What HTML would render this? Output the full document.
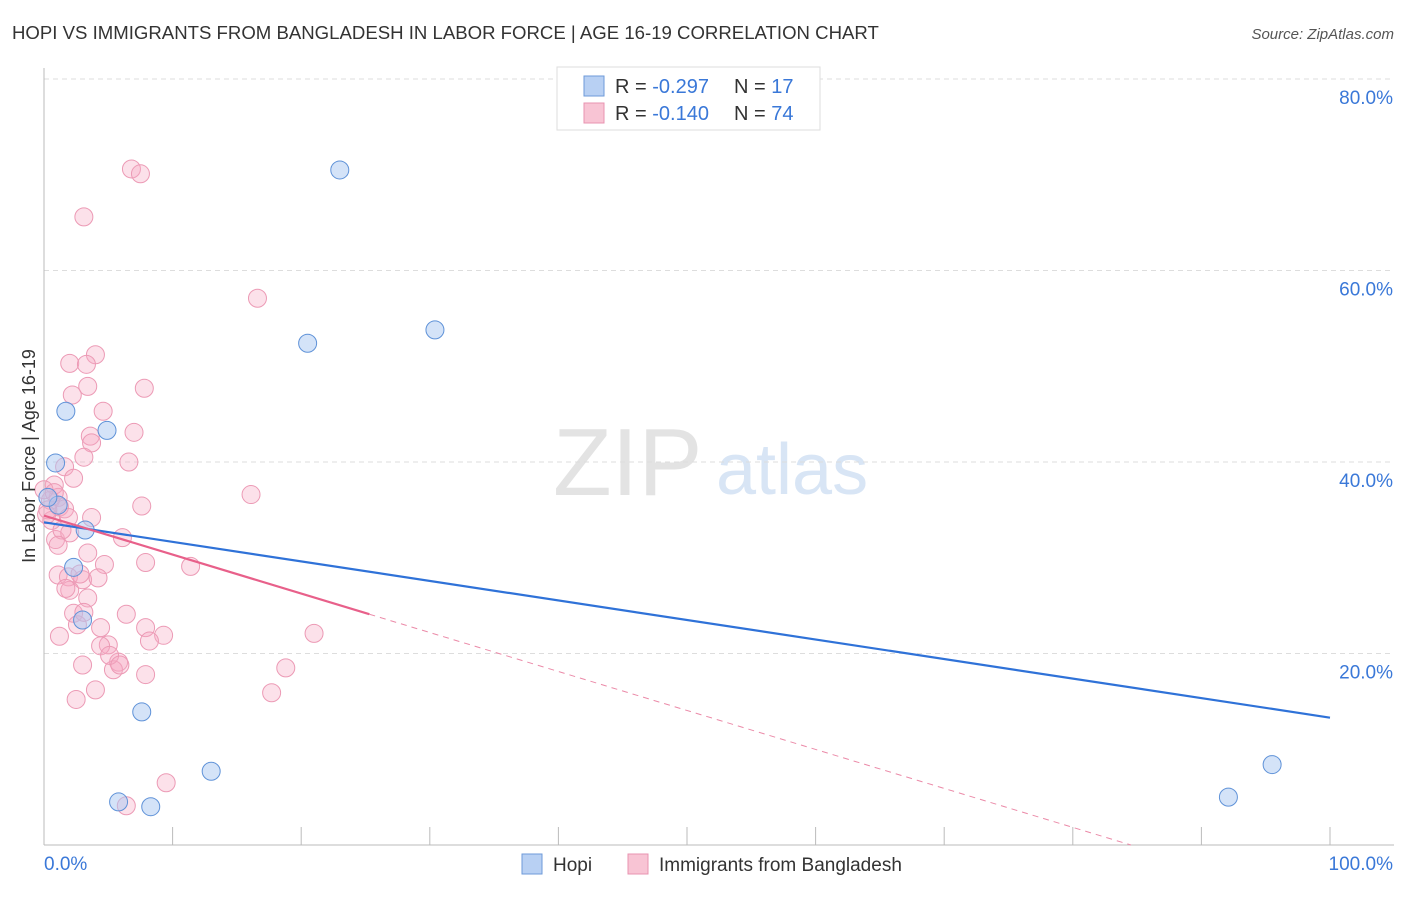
<!DOCTYPE html>
<html><head><meta charset="utf-8"><style>
body{margin:0;background:#fff;font-family:"Liberation Sans",sans-serif}
svg text{font-family:"Liberation Sans",sans-serif}
</style></head><body>
<svg width="1406" height="892" xmlns="http://www.w3.org/2000/svg">
<text x="12" y="39" font-size="18.6" fill="#333">HOPI VS IMMIGRANTS FROM BANGLADESH IN LABOR FORCE | AGE 16-19 CORRELATION CHART</text>
<text x="1394" y="39" font-size="15" fill="#555" font-style="italic" text-anchor="end">Source: ZipAtlas.com</text>
<g>
<text x="553" y="495" font-size="96" fill="#e3e3e3" font-family="Liberation Serif">ZIP</text>
<text x="716" y="494" font-size="72" fill="#d8e5f5">atlas</text>
</g>
<g id="grid"></g>
<g id="axes"></g>
<g id="marks"></g>
<text x="35" y="456" font-size="18" fill="#333" transform="rotate(-90 35 456)" text-anchor="middle">In Labor Force | Age 16-19</text>
<g>
<rect x="557" y="67" width="263" height="63" fill="#fff" stroke="#ddd"/>
<rect x="584" y="76" width="20" height="20" fill="#b8d0f3" stroke="#6e9ad8"/>
<rect x="584" y="103" width="20" height="20" fill="#f8c4d4" stroke="#e893b0"/>
<text x="615" y="93" font-size="20" fill="#333">R = <tspan fill="#3a78d8">-0.297</tspan>   <tspan x="734">N = </tspan><tspan fill="#3a78d8">17</tspan></text>
<text x="615" y="120" font-size="20" fill="#333">R = <tspan fill="#3a78d8">-0.140</tspan>   <tspan x="734">N = </tspan><tspan fill="#3a78d8">74</tspan></text>
</g>
<g>
<rect x="522" y="854" width="20" height="20" fill="#b8d0f3" stroke="#6e9ad8"/>
<text x="553" y="871" font-size="19" fill="#333">Hopi</text>
<rect x="628" y="854" width="20" height="20" fill="#f8c4d4" stroke="#e893b0"/>
<text x="659" y="871" font-size="19" fill="#333">Immigrants from Bangladesh</text>
</g>
</svg>
<script>
const hopiX=[23.0,20.5,30.4,1.7,4.9,0.9,1.1,0.3,3.2,2.3,3.0,7.6,13.0,5.8,8.3,95.5,92.1];
const hopiY=[70.5,52.4,53.8,45.3,43.3,39.9,35.5,36.3,32.9,29.0,23.5,13.9,7.7,4.5,4.0,8.4,5.0];
const bangX=[6.8,7.5,3.1,16.6,4.0,2.0,3.3,3.4,7.8,2.2,4.6,3.6,3.7,7.0,3.1,6.6,1.6,2.3,16.1,0.8,1.1,0.5,1.2,7.6,1.6,3.7,0.6,1.9,0.9,2.0,6.1,3.4,4.7,7.9,11.4,1.1,1.9,3.0,2.8,3.4,2.3,6.4,2.0,2.6,21.0,4.4,9.3,7.9,1.2,5.0,4.4,8.2,3.0,5.8,5.4,7.9,18.8,4.0,2.5,17.7,9.5,6.4,0,0.3,0.8,0.2,1.4,1.1,1.7,4.2,5.1,5.9,3.1];
const bangY=[70.6,70.1,65.6,57.1,51.2,50.3,50.2,47.9,47.7,47.0,45.3,42.7,42.0,43.1,40.5,40.0,39.5,38.3,36.6,37.6,36.3,36.0,35.3,35.4,35.1,34.2,33.9,34.2,31.9,32.6,32.1,30.5,29.3,29.5,29.1,28.2,28.0,27.7,28.3,25.8,24.2,24.1,26.6,23.0,22.1,22.7,21.9,22.7,21.8,20.9,20.8,21.3,18.8,19.1,18.3,17.8,18.5,16.2,15.2,15.9,6.5,4.1,37.1,35.0,36.8,34.5,32.9,31.3,26.8,27.9,19.8,18.8,24.3];
const yTicks=[20,40,60,80];
const xTickVals=[10,20,30,40,50,60,70,80,90,100];
const hopiTrend=[33.7,13.3];
const bangTrend=[34.4,-0.407];
const bangSolidEnd=25.3;
const NS="http://www.w3.org/2000/svg";
const sx=v=>44+v*12.86, sy=v=>845-v*9.575;
function mk(p,t,a){const e=document.createElementNS(NS,t);for(const k in a)e.setAttribute(k,a[k]);p.appendChild(e);return e;}
const grid=document.getElementById('grid'),axes=document.getElementById('axes'),marks=document.getElementById('marks');
yTicks.forEach(v=>{
 const l=mk(grid,'line',{x1:44,x2:1394,y1:sy(v),y2:sy(v),stroke:'#ddd','stroke-dasharray':'5,4'});
 
 
 const t=mk(grid,'text',{x:1393,y:sy(v)+25,'font-size':19,fill:'#3a78d8','text-anchor':'end'});t.textContent=v.toFixed(1)+'%';
 
 
});
let a=mk(axes,'line',{x1:44,x2:44,y1:68,y2:845,stroke:'#bbb'});


a=mk(axes,'line',{x1:44,x2:1394,y1:845,y2:845,stroke:'#bbb'});


xTickVals.forEach(v=>{const l=mk(axes,'line',{x1:sx(v),x2:sx(v),y1:827,y2:845,stroke:'#bbb'});
 
 });
let t=mk(axes,'text',{x:44,y:870,'font-size':19,fill:'#3a78d8'});t.textContent='0.0%';


t=mk(axes,'text',{x:1393,y:870,'font-size':19,fill:'#3a78d8','text-anchor':'end'});t.textContent='100.0%';


bangX.forEach((x,i)=>{const c=mk(marks,'circle',{cx:sx(x),cy:sy(bangY[i]),r:9,fill:'rgba(246,170,195,0.35)',stroke:'#ec9ab5','stroke-width':1});
 
 });
hopiX.forEach((x,i)=>{const c=mk(marks,'circle',{cx:sx(x),cy:sy(hopiY[i]),r:9,fill:'rgba(170,200,242,0.5)',stroke:'#5f92d8','stroke-width':1});
 
 });
let l=mk(marks,'line',{x1:sx(0),y1:sy(hopiTrend[0]),x2:sx(100),y2:sy(hopiTrend[1]),stroke:'#2f72d8','stroke-width':2.2});


const zeroX=-bangTrend[0]/bangTrend[1];
l=mk(marks,'line',{x1:sx(0),y1:sy(bangTrend[0]),x2:sx(bangSolidEnd),y2:sy(bangTrend[0]+bangTrend[1]*bangSolidEnd),stroke:'#e8608a','stroke-width':2.2});


l=mk(marks,'line',{x1:sx(bangSolidEnd),y1:sy(bangTrend[0]+bangTrend[1]*bangSolidEnd),x2:sx(zeroX),y2:sy(0),stroke:'#eb8aa8','stroke-width':1,'stroke-dasharray':'6,5'});


</script>
</body></html>
